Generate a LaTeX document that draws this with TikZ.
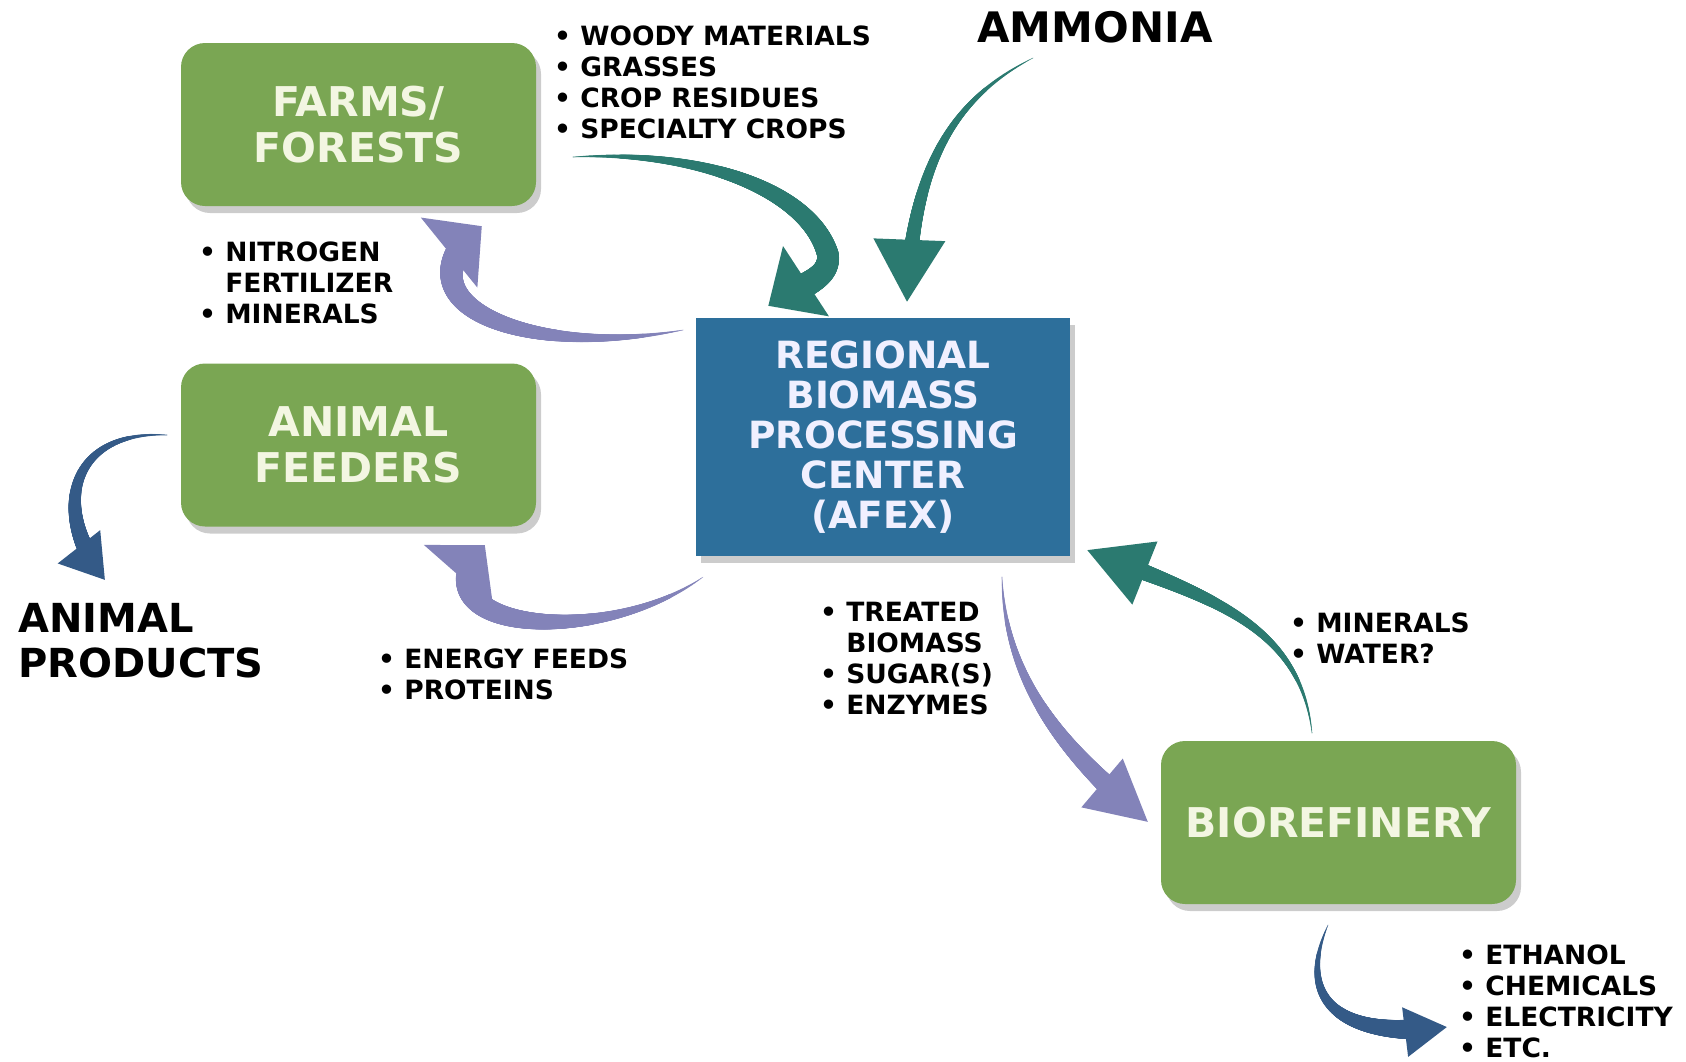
\documentclass[tikz,border=0pt]{standalone}
\usepackage{fontspec}
\setmainfont{DejaVu Sans}
\usetikzlibrary{shadows,decorations.markings}
\definecolor{boxgreen}{HTML}{7AA653}
\definecolor{boxblue}{HTML}{2D6F9B}
\definecolor{boxtext}{HTML}{F3F6E2}
\definecolor{flowteal}{HTML}{2B7A70}
\definecolor{flowlilac}{HTML}{8383B9}
\definecolor{flowblue}{HTML}{345A87}
\newcommand\contline{\phantom{•\ }}

\begin{document}
\begin{tikzpicture}[x=1pt, y=-1pt,
  box/.style={rectangle, rounded corners=24pt, fill=boxgreen, text=boxtext, align=center,
    minimum width=355pt, minimum height=163pt, font=\fontsize{41}{46}\selectfont\bfseries,
    drop shadow={shadow xshift=5pt, shadow yshift=-7pt, opacity=0.2, fill=black}},
  hub/.style={rectangle, fill=boxblue, text=white!94!blue, align=center,
    minimum width=374pt, minimum height=238pt, font=\fontsize{37.5}{40}\selectfont\bfseries,
    drop shadow={shadow xshift=5pt, shadow yshift=-7pt, opacity=0.2, fill=black}},
  list/.style={anchor=north west, inner sep=0pt, align=left, font=\fontsize{26.5}{31}\selectfont\bfseries},
  big/.style={inner sep=0pt, align=left, font=\fontsize{40}{45}\selectfont\bfseries},
  flow/.style n args={4}{
    postaction={decorate, decoration={markings,
      mark=between positions 0 and -#3pt step 0.5pt with {
        \pgfmathsetmacro\flowr{0.3+(#2/2-0.3)*\pgfkeysvalueof{/pgf/decoration/mark info/distance from start}/\pgfdecoratedpathlength}
        \fill[#1] (0pt,0pt) circle (\flowr pt);}}},
    postaction={decorate, decoration={markings,
      mark=at position 0.999 with {\fill[#1] (0pt,0pt) -- (-#3pt,#4pt) -- (-#3pt,-#4pt) -- cycle;}}}}]
  \useasboundingbox (0,0) rectangle (1686,1061);

  % Cajas
  \node[box] (farms) at (358.5,124.5) {FARMS/\\FORESTS};
  \node[box] (feeders) at (358.5,445) {ANIMAL\\FEEDERS};
  \node[hub] (afex) at (883,437) {REGIONAL\\BIOMASS\\PROCESSING\\CENTER\\(AFEX)};
  \node[box] (refinery) at (1338.5,822.5) {BIOREFINERY};

  % Textos
  \node[list] (inputs) at (554,26) {• WOODY MATERIALS\\• GRASSES\\• CROP RESIDUES\\• SPECIALTY CROPS};
  \node[big, font=\fontsize{42}{46}\selectfont\bfseries] (ammonia) at (1095,27) {AMMONIA};
  \node[list] (fertilizer) at (199,242) {• NITROGEN\\\contline FERTILIZER\\• MINERALS};
  \node[big, anchor=north west] (products) at (18,603.5) {ANIMAL\\PRODUCTS};
  \node[list] (feeds) at (378,649) {• ENERGY FEEDS\\• PROTEINS};
  \node[list] (treated) at (820,602) {• TREATED\\\contline BIOMASS\\• SUGAR(S)\\• ENZYMES};
  \node[list] (recycle) at (1290,613) {• MINERALS\\• WATER?};
  \node[list] (outputs) at (1459,945) {• ETHANOL\\• CHEMICALS\\• ELECTRICITY\\• ETC.};

  % Extremos de las flechas
  \coordinate (inTail) at (573,157);    \coordinate (inTip) at (768,306);
  \coordinate (nhTail) at (1033,58);    \coordinate (nhTip) at (907,302);
  \coordinate (fertTail) at (683,330);  \coordinate (fertTip) at (482,226);
  \coordinate (feedTail) at (703,577);  \coordinate (feedTip) at (485,545);
  \coordinate (prodTail) at (167,435);  \coordinate (prodTip) at (105,580);
  \coordinate (sugarTail) at (1002,577); \coordinate (sugarTip) at (1148,822);
  \coordinate (backTail) at (1312,733); \coordinate (backTip) at (1087,550);
  \coordinate (outTail) at (1328,925);  \coordinate (outTip) at (1447,1027);

  % Flechas
  \path[flow={flowteal}{28}{45}{42}] (inTail) .. controls (700,150) and (810,190) .. (828,255)
    .. controls (830,280) and (800,285) .. (inTip);
  \path[flow={flowteal}{18}{62}{36}] (nhTail) .. controls (950,100) and (912,170) .. (nhTip);
  \path[flow={flowlilac}{28}{42}{45}] (fertTail) .. controls (520,360) and (390,300) .. (fertTip);
  \path[flow={flowlilac}{28}{40}{46}] (feedTail) .. controls (600,650) and (410,630) .. (feedTip);
  \path[flow={flowblue}{20}{42}{27}] (prodTail) .. controls (70,430) and (50,510) .. (prodTip);
  \path[flow={flowlilac}{24}{60}{32}] (sugarTail) .. controls (1005,690) and (1075,760) .. (sugarTip);
  \path[flow={flowteal}{20}{62}{34}] (backTail) .. controls (1300,620) and (1200,595) .. (backTip);
  \path[flow={flowblue}{24}{42}{25}] (outTail) .. controls (1295,1000) and (1340,1040) .. (outTip);
\end{tikzpicture}
\end{document}
